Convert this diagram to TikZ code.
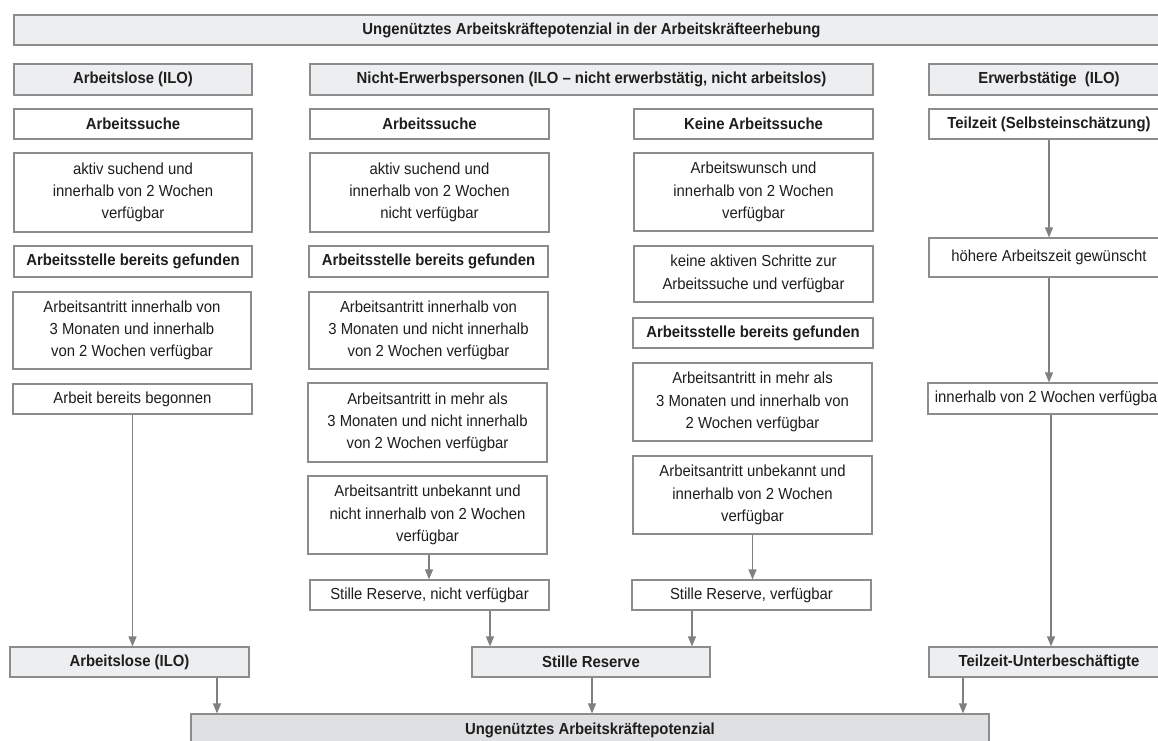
\documentclass[tikz,border=0pt]{standalone}
\usepackage{fontspec}
\setmainfont{Liberation Sans}[FakeStretch=0.93]
\usetikzlibrary{arrows.meta,calc}
\definecolor{bordc}{HTML}{8C8C8C}
\definecolor{arrc}{HTML}{808080}
\definecolor{hdrc}{HTML}{EDEEF0}
\definecolor{botc}{HTML}{DFE0E2}
\definecolor{txtc}{HTML}{1E1E1E}
\tikzset{
  box/.style={draw=bordc, line width=1.2pt, fill=white, inner sep=0pt, align=center,
    font=\fontsize{16}{22.3}\selectfont, text=txtc},
  boldbox/.style={box, font=\fontsize{16}{22.3}\selectfont\bfseries},
  hdr/.style={boldbox, fill=hdrc},
  botbox/.style={boldbox, fill=botc},
  arr/.style={draw=arrc, line width=1.2pt, -{Triangle[length=10pt,width=8pt]}, arrc}
}
\begin{document}
\begin{tikzpicture}[x=1pt,y=-1pt]
\useasboundingbox (0,0) rectangle (1158,740);
\clip (0,0) rectangle (1158,740);
\fill[white] (0,0) rectangle (1158,740);
% top
\node[hdr, minimum width=1155pt, minimum height=30pt] (top) at (591.5,30) {Ungenütztes Arbeitskräftepotenzial in der Arbeitskräfteerhebung};
% row 2
\node[hdr, minimum width=238pt, minimum height=31pt] (al) at (133,79.5) {Arbeitslose (ILO)};
\node[hdr, minimum width=563pt, minimum height=31pt] (ne) at (591.5,79.5) {Nicht-Erwerbspersonen (ILO – nicht erwerbstätig, nicht arbeitslos)};
\node[hdr, minimum width=240pt, minimum height=31pt] (et) at (1049,79.5) {Erwerbstätige~ (ILO)};
% row 3
\node[boldbox, minimum width=238pt, minimum height=30pt] (as1) at (133,124) {Arbeitssuche};
\node[boldbox, minimum width=239pt, minimum height=30pt] (as2) at (429.5,124) {Arbeitssuche};
\node[boldbox, minimum width=239pt, minimum height=30pt] (kas) at (753.5,124) {Keine Arbeitssuche};
\node[boldbox, minimum width=240pt, minimum height=30pt] (tz) at (1049,124) {Teilzeit (Selbsteinschätzung)};
% left column
\node[box, minimum width=238pt, minimum height=79pt] (l1) at (133,192.5) {aktiv suchend und\\innerhalb von 2 Wochen\\verfügbar};
\node[boldbox, minimum width=238pt, minimum height=31pt] (l2) at (133,261.5) {Arbeitsstelle bereits gefunden};
\node[box, minimum width=238pt, minimum height=77pt] (l3) at (132,330.5) {Arbeitsantritt innerhalb von\\3 Monaten und innerhalb\\von 2 Wochen verfügbar};
\node[box, minimum width=239pt, minimum height=30pt] (l4) at (132.5,399) {Arbeit bereits begonnen};
\node[hdr, minimum width=239pt, minimum height=30pt] (alb) at (129.5,662) {Arbeitslose (ILO)};
% middle-left column
\node[box, minimum width=239pt, minimum height=79pt] (m1) at (429.5,192.5) {aktiv suchend und\\innerhalb von 2 Wochen\\nicht verfügbar};
\node[boldbox, minimum width=239pt, minimum height=31pt] (m2) at (428.5,261.5) {Arbeitsstelle bereits gefunden};
\node[box, minimum width=239pt, minimum height=77pt] (m3) at (428.5,330.5) {Arbeitsantritt innerhalb von\\3 Monaten und nicht innerhalb\\von 2 Wochen verfügbar};
\node[box, minimum width=239pt, minimum height=79pt] (m4) at (427.5,422.5) {Arbeitsantritt in mehr als\\3 Monaten und nicht innerhalb\\von 2 Wochen verfügbar};
\node[box, minimum width=239pt, minimum height=78pt] (m5) at (427.5,515) {Arbeitsantritt unbekannt und\\nicht innerhalb von 2 Wochen\\verfügbar};
\node[box, minimum width=239pt, minimum height=30pt] (m6) at (429.5,595) {Stille Reserve, nicht verfügbar};
% middle-right column
\node[box, minimum width=239pt, minimum height=78pt] (r1) at (753.5,192) {Arbeitswunsch und\\innerhalb von 2 Wochen\\verfügbar};
\node[box, minimum width=239pt, minimum height=56pt] (r2) at (753.5,274) {keine aktiven Schritte zur\\Arbeitssuche und verfügbar};
\node[boldbox, minimum width=240pt, minimum height=30pt] (r3) at (753,333) {Arbeitsstelle bereits gefunden};
\node[box, minimum width=239pt, minimum height=78pt] (r4) at (752.5,402) {Arbeitsantritt in mehr als\\3 Monaten und innerhalb von\\2 Wochen verfügbar};
\node[box, minimum width=239pt, minimum height=78pt] (r5) at (752.5,495) {Arbeitsantritt unbekannt und\\innerhalb von 2 Wochen\\verfügbar};
\node[box, minimum width=239pt, minimum height=30pt] (r6) at (751.5,595) {Stille Reserve, verfügbar};
% stille reserve
\node[hdr, minimum width=238pt, minimum height=30pt] (sr) at (591,662) {Stille Reserve};
% right column
\node[box, minimum width=240pt, minimum height=39pt] (t1) at (1049,257.5) {höhere Arbeitszeit gewünscht};
\node[box, minimum width=241pt, minimum height=31pt] (t2) at (1048.5,398.5) {innerhalb von 2 Wochen verfügbar};
\node[hdr, minimum width=240pt, minimum height=30pt] (tu) at (1049,662) {Teilzeit-Unterbeschäftigte};
% bottom
\node[botbox, minimum width=798pt, minimum height=32pt] (bot) at (590,730) {Ungenütztes Arbeitskräftepotenzial};
% arrows
\draw[arr] (l4.south) -- (l4.south |- alb.north);
\draw[arr] ([xshift=87.5pt]alb.south) -- ([xshift=87.5pt]alb.south |- bot.north);
\draw[arr] ([xshift=1.5pt]m5.south) -- ([xshift=1.5pt]m5.south |- m6.north);
\draw[arr] ([xshift=60.5pt]m6.south) -- ([xshift=60.5pt]m6.south |- sr.north);
\draw[arr] (r5.south) -- (r5.south |- r6.north);
\draw[arr] ([xshift=-59.5pt]r6.south) -- ([xshift=-59.5pt]r6.south |- sr.north);
\draw[arr] ([xshift=1pt]sr.south) -- ([xshift=1pt]sr.south |- bot.north);
\draw[arr] (tz.south) -- (tz.south |- t1.north);
\draw[arr] (t1.south) -- (t1.south |- t2.north);
\draw[arr] ([xshift=2.5pt]t2.south) -- ([xshift=2.5pt]t2.south |- tu.north);
\draw[arr] ([xshift=-86pt]tu.south) -- ([xshift=-86pt]tu.south |- bot.north);
\end{tikzpicture}
\end{document}
